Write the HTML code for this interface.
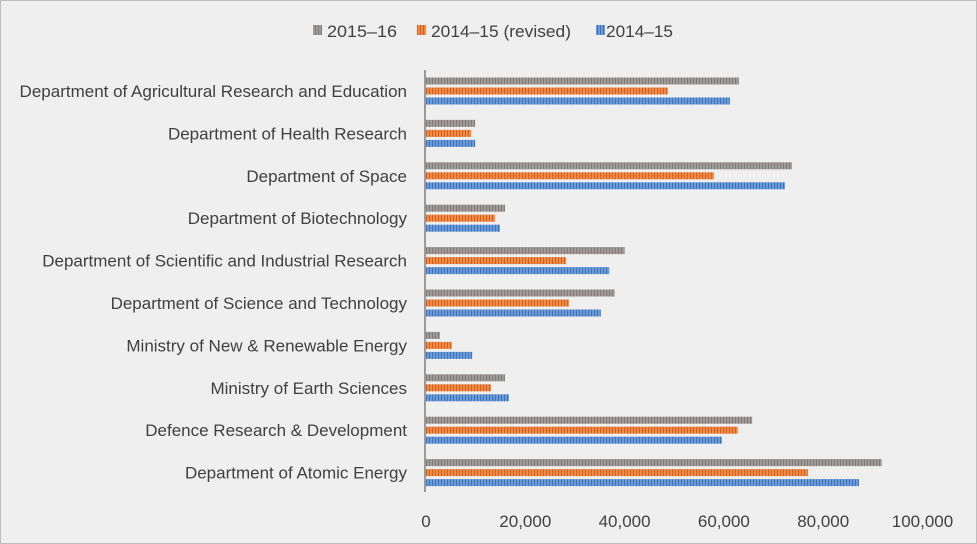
<!DOCTYPE html>
<html><head><meta charset="utf-8"><style>
html,body{margin:0;padding:0;background:#efefef;}
svg{display:block;font-family:"Liberation Sans",sans-serif;}
</style></head><body>
<svg id="c" width="977" height="544">
<defs>
<pattern id="pg" width="3" height="10" patternUnits="userSpaceOnUse"><rect width="3" height="10" fill="#a09a98"/><rect width="1" height="10" fill="#807a78"/></pattern>
<pattern id="po" width="3" height="10" patternUnits="userSpaceOnUse"><rect width="3" height="10" fill="#f08a48"/><rect width="1" height="10" fill="#d2601c"/></pattern>
<pattern id="pb" width="3" height="10" patternUnits="userSpaceOnUse"><rect width="3" height="10" fill="#6a9ad8"/><rect width="1" height="10" fill="#3f72b8"/></pattern>
</defs>
<rect x="0.5" y="0.5" width="976" height="543" fill="#efefef" stroke="#bdbdbd"/>
<g id="legend"></g>
<g id="plot"></g>
</svg>
<script>
const categories=["Department of Agricultural Research and Education","Department of Health Research","Department of Space","Department of Biotechnology","Department of Scientific and Industrial Research","Department of Science and Technology","Ministry of New & Renewable Energy","Ministry of Earth Sciences","Defence Research & Development","Department of Atomic Energy"];
const series2015_16=[63000,9900,73700,15900,40000,38000,2800,15900,65700,91800];
const series2014_15rev=[48700,9100,58000,13900,28200,28800,5200,13100,62800,76900];
const series2014_15=[61200,9900,72300,14900,36900,35200,9300,16700,59600,87200];
const ticks=[0,20000,40000,60000,80000,100000];
const tickLabels=["0","20,000","40,000","60,000","80,000","100,000"];
const seriesNames=["2015–16","2014–15 (revised)","2014–15"];
const NS="http://www.w3.org/2000/svg";
const plot=document.getElementById('plot'),leg=document.getElementById('legend');
function mk(t,a,p){const e=document.createElementNS(NS,t);for(const k in a)e.setAttribute(k,a[k]);p.appendChild(e);return e;}
const x=v=>426+v*(496.5/100000);
const yc=i=>91+i*42.4;
const fills=["url(#pg)","url(#po)","url(#pb)"];
const data=[series2015_16,series2014_15rev,series2014_15];
categories.forEach((c,i)=>{
  const t=mk('text',{x:407,y:yc(i)+6,'text-anchor':'end','font-size':17,fill:'#404040'},plot);t.textContent=c;
  
  
  data.forEach((s,j)=>{
    const r=mk('rect',{x:x(0),y:yc(i)-13.5+j*10,width:x(s[i])-x(0),height:7,fill:fills[j]},plot);
    
    
  });
});
const ax=mk('line',{x1:425,x2:425,y1:70,y2:492,stroke:'#9a9a9a','stroke-width':2},plot);


ticks.forEach((v,i)=>{
  const t=mk('text',{x:x(v),y:527,'text-anchor':'middle','font-size':17,fill:'#404040'},plot);t.textContent=tickLabels[i];
  
  
});
const swx=[313,417,596], txx=[327,431,606], txw=[70,140,67];
seriesNames.forEach((n,j)=>{
  const r=mk('rect',{x:swx[j],y:25,width:9,height:10,fill:fills[j]},leg);
  
  
  const t=mk('text',{x:txx[j],y:37,'font-size':17,fill:'#404040',textLength:txw[j],lengthAdjust:'spacingAndGlyphs'},leg);t.textContent=n;
  
  
});
</script>
</body></html>
